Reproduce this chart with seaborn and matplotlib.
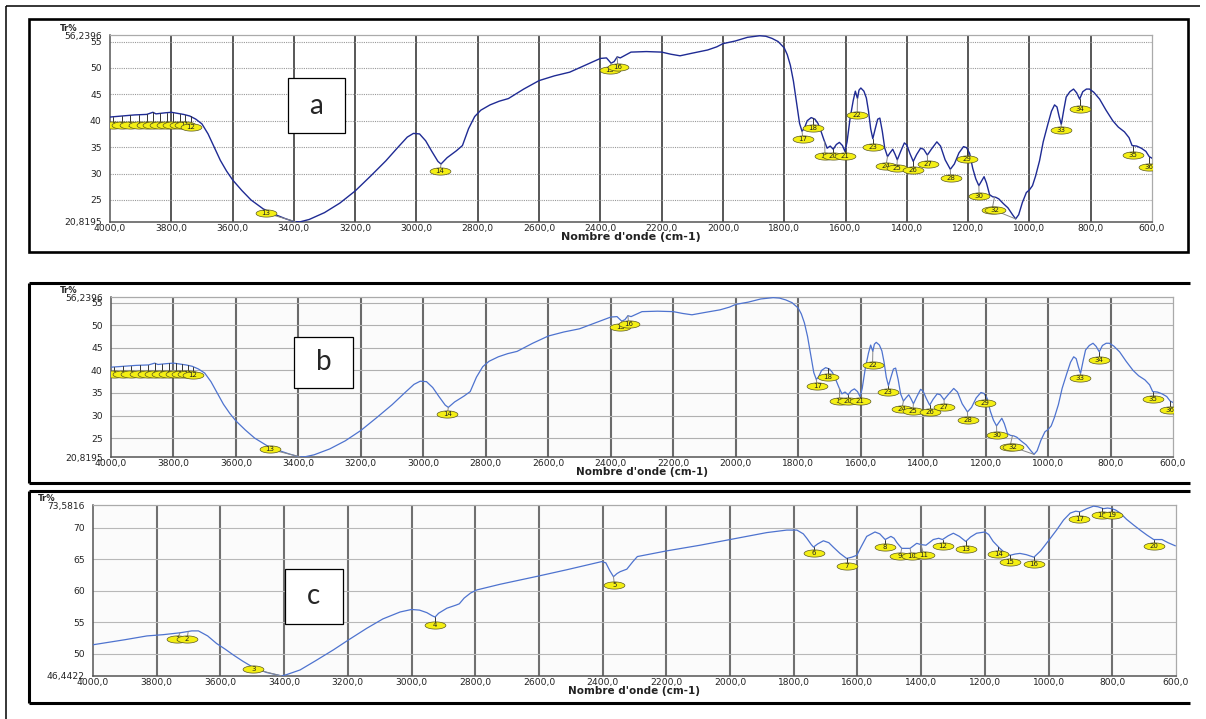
import numpy as np
import pandas as pd
import matplotlib
matplotlib.use("Agg")
import matplotlib.pyplot as plt
from matplotlib.path import Path
from matplotlib.patches import Rectangle
from matplotlib.lines import Line2D
import seaborn as sns

# ---------------- FTIR spectrum shared by samples a and b ----------------
wn_ab = [4000, 3960, 3920, 3880, 3860, 3850, 3820, 3800, 3780, 3760, 3740, 3720,
         3700, 3680, 3660, 3640, 3620, 3600, 3570, 3540, 3500, 3460, 3430, 3400,
         3380, 3350, 3300, 3250, 3200, 3150, 3100, 3060, 3030, 3010, 2990, 2970,
         2950, 2930, 2920, 2900, 2870, 2850, 2830, 2810, 2790, 2760, 2730, 2700,
         2650, 2600, 2550, 2500, 2450, 2400, 2380, 2365, 2355, 2345, 2335, 2300,
         2250, 2200, 2170, 2140, 2100, 2050, 2020, 2000, 1960, 1920, 1880, 1860,
         1840, 1820, 1800, 1790, 1780, 1770, 1760, 1750, 1742, 1735, 1725, 1712,
         1700, 1690, 1680, 1670, 1660, 1650, 1640, 1630, 1620, 1610, 1602, 1595,
         1585, 1575, 1568, 1561, 1556, 1550, 1540, 1532, 1525, 1518, 1511, 1503,
         1495, 1488, 1480, 1472, 1463, 1455, 1446, 1438, 1431, 1420, 1408, 1400,
         1390, 1379, 1368, 1355, 1345, 1333, 1320, 1302, 1290, 1275, 1258, 1245,
         1230, 1215, 1205, 1195, 1185, 1175, 1165, 1156, 1148, 1140, 1130, 1120,
         1110, 1100, 1085, 1070, 1055, 1045, 1035, 1023, 1010, 1000, 990, 980,
         967, 955, 940, 928, 918, 910, 903, 896, 888, 880, 868, 856, 846, 836,
         826, 814, 804, 790, 771, 750, 728, 710, 690, 675, 665, 650, 635, 620,
         609, 600]
tr_ab = [40.7, 40.9, 41.1, 41.2, 41.6, 41.3, 41.5, 41.6, 41.4, 41.2, 40.9, 40.3,
         39.4, 37.5, 35.0, 32.5, 30.5, 28.8, 26.8, 25.0, 23.3, 22.2, 21.5, 20.9,
         20.85, 21.3, 22.6, 24.4, 26.7, 29.5, 32.4, 35.0, 36.9, 37.6, 37.5, 36.2,
         34.2, 32.3, 31.8, 33.0, 34.3, 35.3, 38.5, 40.8, 42.0, 43.0, 43.7, 44.2,
         46.0, 47.6, 48.5, 49.2, 50.5, 51.8, 51.9, 50.9, 51.2, 52.1, 51.9, 53.0,
         53.1, 53.0, 52.6, 52.3, 52.8, 53.4, 54.0, 54.6, 55.1, 55.8, 56.1, 56.0,
         55.6, 55.0, 53.8, 52.5, 50.5, 47.5, 43.5, 39.5, 38.0, 38.5, 40.0, 40.6,
         40.3, 39.5, 38.0, 36.3, 34.8, 35.2, 34.6, 35.5, 35.9, 35.3, 34.2, 36.0,
         40.5, 43.8, 45.6, 44.2, 45.8, 46.2, 45.6, 44.3, 41.8, 38.5, 36.6, 38.5,
         40.3, 40.5, 38.0, 34.8, 33.2, 33.9, 34.6, 33.6, 32.6, 34.2, 35.8, 35.4,
         33.8, 32.3, 33.6, 34.8, 34.6, 33.5, 34.6, 36.0, 35.2, 32.6, 30.8, 31.8,
         33.9, 35.1, 34.9, 33.8, 31.0, 29.0, 27.7, 28.6, 29.4, 28.2, 26.0, 25.6,
         25.5, 25.2, 24.3, 23.5, 22.2, 21.4, 22.2, 24.5, 26.4, 26.9, 27.7, 29.5,
         32.4, 36.0, 39.3, 41.8, 43.0, 42.6, 40.8, 39.3, 42.0, 44.5, 45.5, 46.0,
         45.3, 44.1, 45.5, 46.0, 46.0, 45.4, 44.1, 42.0, 40.0, 38.8, 37.9, 36.8,
         35.3, 35.2, 34.8, 34.2, 33.2, 32.9]

# numbered peaks: peak position, bubble position and bubble height
peak_id_ab = list(range(1, 37))
peak_wn_ab = [3989, 3962, 3935, 3907, 3880, 3859, 3837, 3815, 3793, 3772, 3755, 3737,
              3395, 2920, 2365, 2345, 1742, 1706, 1668, 1640, 1602, 1561, 1511, 1463,
              1431, 1379, 1333, 1258, 1203, 1165, 1114, 1045, 896, 836, 663, 609]
bubble_wn_ab = [3989, 3962, 3935, 3907, 3880, 3859, 3837, 3815, 3793, 3772, 3755, 3737,
                3491, 2923, 2369, 2343, 1739, 1706, 1667, 1640, 1602, 1562, 1511, 1468,
                1433, 1379, 1332, 1257, 1203, 1164, 1122, 1112, 897, 836, 663, 609]
bubble_tr_ab = [39.2, 39.2, 39.2, 39.2, 39.2, 39.2, 39.2, 39.2, 39.2, 39.2, 39.2, 38.9,
                22.5, 30.4, 49.6, 50.2, 36.5, 38.6, 33.3, 33.3, 33.3, 41.1, 35.1, 31.5,
                31.0, 30.7, 31.9, 29.1, 32.7, 25.7, 23.1, 23.0, 38.2, 42.3, 33.6, 31.3]

# ---------------- FTIR spectrum of sample c ----------------
wn_c = [4000, 3900, 3831, 3780, 3727, 3690, 3669, 3640, 3612, 3585, 3560, 3530,
        3497, 3455, 3420, 3408, 3390, 3350, 3300, 3245, 3200, 3141, 3090, 3036,
        3000, 2975, 2952, 2935, 2926, 2915, 2889, 2860, 2850, 2835, 2815, 2795,
        2722, 2602, 2513, 2403, 2390, 2378, 2366, 2355, 2345, 2324, 2305, 2291,
        2199, 2094, 2000, 1885, 1822, 1790, 1770, 1759, 1745, 1738, 1725, 1707,
        1690, 1676, 1655, 1634, 1618, 1602, 1590, 1571, 1545, 1530, 1513, 1495,
        1485, 1476, 1461, 1435, 1414, 1401, 1385, 1362, 1345, 1333, 1315, 1299,
        1280, 1260, 1245, 1226, 1200, 1188, 1174, 1153, 1135, 1121, 1105, 1090,
        1070, 1046, 1025, 999, 975, 953, 932, 915, 901, 880, 859, 845, 828, 815,
        802, 790, 775, 755, 733, 710, 691, 670, 655, 644, 625, 602]
tr_c = [51.4, 52.2, 52.8, 53.0, 53.3, 53.6, 53.6, 52.8, 51.6, 50.7, 49.8, 48.8,
        47.8, 47.0, 46.6, 46.45, 46.7, 47.4, 48.9, 50.6, 52.1, 54.0, 55.5, 56.6,
        57.0, 56.9, 56.5, 56.0, 55.8, 56.4, 57.2, 57.7, 57.9, 58.8, 59.6, 60.1,
        61.0, 62.3, 63.3, 64.6, 64.4, 63.2, 62.2, 62.7, 63.0, 63.4, 64.6, 65.4,
        66.3, 67.2, 68.1, 69.2, 69.6, 69.6, 69.0, 68.3, 67.3, 66.9, 67.4, 67.9,
        67.6, 66.9, 65.9, 65.1, 65.3, 65.6, 66.8, 68.6, 69.3, 69.0, 68.1, 68.6,
        68.3, 67.6, 66.7, 66.7, 67.5, 67.3, 67.2, 68.1, 68.3, 68.1, 68.7, 69.1,
        68.6, 67.8, 68.5, 69.1, 69.3, 68.9, 67.8, 66.7, 65.9, 65.6, 65.8, 65.9,
        65.7, 65.3, 66.3, 68.0, 69.6, 71.2, 72.3, 72.6, 72.5, 73.0, 73.4, 73.3,
        73.0, 73.1, 73.0, 72.8, 72.3, 71.3, 70.4, 69.5, 68.8, 68.1, 68.1, 68.1,
        67.6, 67.1]

peak_id_c = list(range(1, 21))
peak_wn_c = [3727, 3701, 3408, 2926, 2366, 1738, 1634, 1513, 1461, 1435, 1401, 1333,
             1260, 1158, 1121, 1046, 903, 833, 802, 670]
bubble_wn_c = [3735, 3705, 3497, 2926, 2363, 1738, 1634, 1513, 1466, 1430, 1392, 1333,
               1260, 1158, 1121, 1046, 903, 833, 802, 670]
bubble_tr_c = [52.3, 52.3, 47.6, 54.6, 60.9, 66.0, 63.9, 66.9, 65.5, 65.5, 65.7, 67.1,
               66.6, 65.8, 64.5, 64.2, 71.4, 72.0, 72.0, 67.1]

# axis ranges and ticks
x_ticks = list(range(4000, 599, -200))
y_range_ab = (20.8195, 56.2396)
y_ticks_ab = [25, 30, 35, 40, 45, 50, 55]
y_range_c = (46.4422, 73.5816)
y_ticks_c = [50, 55, 60, 65, 70]
panel_names = ["a", "b", "c"]
x_title = "Nombre d'onde (cm-1)"
y_title = "Tr%"

# ---------------------------------------------------------------------------
W, H = 1206, 719
sns.set_style("white")
plt.rcParams["font.family"] = ["DejaVu Sans"]
fig = plt.figure(figsize=(W / 100, H / 100), dpi=100)


def fx(px):
    return px / W


def fy(py):
    return 1 - py / H


def rect(x0, y0, x1, y1):
    return [fx(x0), fy(y1), fx(x1) - fx(x0), fy(y0) - fy(y1)]


def fig_line(x0, y0, x1, y1, lw):
    fig.add_artist(Line2D([fx(x0), fx(x1)], [fy(y0), fy(y1)], color="black",
                          lw=lw, transform=fig.transFigure, solid_capstyle="butt"))


t = np.linspace(0, 2 * np.pi, 61)
ELLIPSE = Path(np.column_stack([2.9 * np.cos(t), np.sin(t)]))


def fmt(v):
    return f"{v:.4f}".replace(".", ",")


def draw_panel(box, wn, tr, yr, yt, ids, pwn, bwn, btr, color, lw, hgrid, vgrid,
               face, ytitle_dx, xlabelpad, xlabelsize):
    ax = fig.add_axes(rect(*box))
    ax.set_facecolor(face)
    df = pd.DataFrame({"wn": wn, "tr": tr})
    sns.lineplot(data=df, x="wn", y="tr", ax=ax, color=color, linewidth=lw,
                 sort=False, estimator=None, zorder=3)
    ax.set_xlim(4000, 600)
    ax.set_ylim(*yr)
    for v in x_ticks[1:-1]:
        ax.axvline(v, **vgrid, zorder=1)
    for v in yt:
        ax.axhline(v, **hgrid, zorder=1)
    ax.set_xticks(x_ticks)
    ax.set_xticklabels([f"{v},0" for v in x_ticks])
    ticks_y = [yr[0]] + yt + [yr[1]]
    ax.set_yticks(ticks_y)
    ax.set_yticklabels([fmt(yr[0])] + [str(v) for v in yt] + [fmt(yr[1])])
    ax.tick_params(length=0, labelsize=6.6, labelcolor="#222")
    ax.tick_params(axis="y", pad=6)
    ax.tick_params(axis="x", pad=1.2)
    ax.set_xlabel(x_title, fontsize=xlabelsize, fontweight="bold",
                  labelpad=xlabelpad, color="#222")
    ax.set_ylabel("")
    ax.annotate(y_title, xy=(0, 1), xycoords="axes fraction",
                xytext=(ytitle_dx * 0.72, 5), textcoords="offset points",
                ha="center", va="center", fontsize=6, fontweight="bold", color="#222")
    for side in ("left", "bottom"):
        ax.spines[side].set_color("#555")
        ax.spines[side].set_linewidth(1.1)
    for side in ("top", "right"):
        ax.spines[side].set_color("#aaa")
        ax.spines[side].set_linewidth(0.9)

    wn_inc = np.array(wn[::-1], dtype=float)
    tr_inc = np.array(tr[::-1], dtype=float)
    for k, (n, p, bx, by) in enumerate(zip(ids, pwn, bwn, btr)):
        top = np.interp(p, wn_inc, tr_inc)
        lead = "#333" if p == bx else "#888"
        ax.plot([p, bx], [top, by], color=lead, lw=0.7, zorder=4)
        ax.scatter([bx], [by], marker=ELLIPSE, s=225, facecolor="#f4ef14",
                   edgecolor="#5a5820", linewidth=0.5, zorder=10 + 2 * k)
        ax.text(bx, by, str(n), fontsize=5, ha="center", va="center",
                color="#222", zorder=11 + 2 * k)
    return ax


dark_v = dict(color="#4a4a4a", lw=1.3)
draw_panel((110, 35, 1152, 222), wn_ab, tr_ab, y_range_ab, y_ticks_ab,
           peak_id_ab, peak_wn_ab, bubble_wn_ab, bubble_tr_ab,
           color="#1f2b94", lw=1.0,
           hgrid=dict(color="#999", lw=0.8, ls=(0, (1, 1))), vgrid=dark_v,
           face="white", ytitle_dx=-41, xlabelpad=-0.5, xlabelsize=8)
draw_panel((111, 297, 1173, 457), wn_ab, tr_ab, y_range_ab, y_ticks_ab,
           peak_id_ab, peak_wn_ab, bubble_wn_ab, bubble_tr_ab,
           color="#4e73cf", lw=0.9,
           hgrid=dict(color="#b0b0b0", lw=0.8), vgrid=dict(color="#6a6a6a", lw=1.5),
           face="#fbfbfb", ytitle_dx=-42, xlabelpad=-0.5, xlabelsize=7.5)
draw_panel((93, 505, 1176, 676), wn_c, tr_c, y_range_c, y_ticks_c,
           peak_id_c, peak_wn_c, bubble_wn_c, bubble_tr_c,
           color="#4e73cf", lw=0.9,
           hgrid=dict(color="#b8b8b8", lw=0.8), vgrid=dict(color="#707070", lw=1.5),
           face="#fbfbfb", ytitle_dx=-46, xlabelpad=-0.5, xlabelsize=7.5)

# page frame and panel frames
fig_line(6, 6, 1200, 6, 1.1)
fig_line(6, 6, 6, 719, 1.1)
fig.add_artist(Rectangle((fx(29), fy(252)), fx(1188) - fx(29), fy(19) - fy(252),
                         transform=fig.transFigure, fill=False, ec="black", lw=1.9))
for y0, y1 in ((283, 483), (491, 703)):
    fig_line(29, y0, 1190, y0, 2.2)
    fig_line(29, y1, 1190, y1, 2.2)
    fig_line(29, y0, 29, y1, 2.2)

# panel letters in boxes
for name, (x0, y0, x1, y1) in zip(panel_names, [(288, 78, 345, 133),
                                                 (294, 337, 353, 388),
                                                 (285, 569, 343, 624)]):
    fig.add_artist(Rectangle((fx(x0), fy(y1)), fx(x1) - fx(x0), fy(y0) - fy(y1),
                             transform=fig.transFigure, fc="white", ec="black",
                             lw=0.9, zorder=20))
    fig.text(fx((x0 + x1) / 2), fy((y0 + y1) / 2), name, fontsize=20,
             family=["Lato", "DejaVu Sans"], ha="center", va="center", zorder=21)

fig.savefig("out.png", dpi=100, facecolor="white")
